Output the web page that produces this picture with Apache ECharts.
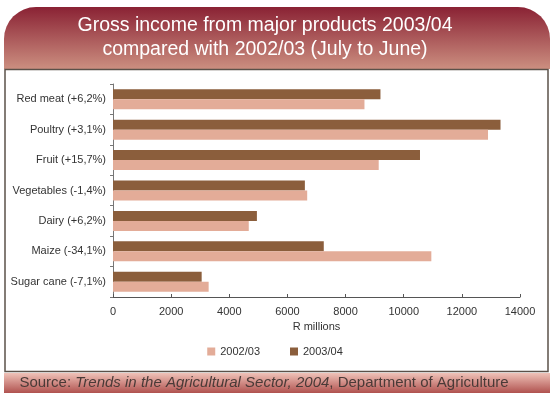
<!DOCTYPE html>
<html>
<head>
<meta charset="utf-8">
<script src="https://cdn.jsdelivr.net/npm/echarts@6/dist/echarts.min.js"></script>
<style>html,body{margin:0;padding:0;background:#fff;}#c{width:550px;height:393px;}</style>
</head>
<body>
<div id="c"></div>
<script>
const categories = ['Red meat (+6,2%)', 'Poultry (+3,1%)', 'Fruit (+15,7%)', 'Vegetables (-1,4%)', 'Dairy (+6,2%)', 'Maize (-34,1%)', 'Sugar cane (-7,1%)'];
const values2002 = [8650, 12900, 9140, 6680, 4670, 10950, 3290];
const values2003 = [9200, 13330, 10560, 6600, 4950, 7250, 3050];
const seriesNames = ['2002/03', '2003/04'];
const xTicks = [0, 2000, 4000, 6000, 8000, 10000, 12000, 14000];

const FONT = 'Liberation Sans';
const chart = echarts.init(document.getElementById('c'), null, {renderer: 'canvas'});
chart.setOption({
  animation: false,
  backgroundColor: '#fff',
  textStyle: {fontFamily: FONT},
  graphic: [
    {type: 'rect', z: 0, shape: {x: 4, y: 7, width: 546, height: 62, r: [32, 32, 0, 0]},
     style: {fill: new echarts.graphic.LinearGradient(0, 0, 0, 1, [{offset: 0, color: '#8a2234'}, {offset: 1, color: '#cc8f80'}])}},
    {type: 'rect', z: 0, shape: {x: 5, y: 69.5, width: 543, height: 302}, style: {fill: 'none', stroke: '#5b5149', lineWidth: 1.5}},
    {type: 'rect', z: 0, shape: {x: 4, y: 373, width: 546, height: 20},
     style: {fill: new echarts.graphic.LinearGradient(0, 0, 0, 1, [{offset: 0, color: '#efc2b8'}, {offset: 1, color: '#b0524f'}])}},
    {type: 'text', z: 5, x: 264, y: 383,
     style: {text: '{n|Source: }{i|Trends in the Agricultural Sector, 2004}{n|, Department of Agriculture}', align: 'center', verticalAlign: 'middle',
       rich: {n: {fontFamily: FONT, fontSize: 15, fill: '#4a3a37'}, i: {fontFamily: FONT, fontSize: 15, fontStyle: 'italic', fill: '#4a3a37'}}}}
  ],
  title: {
    text: 'Gross income from major products 2003/04\ncompared with 2002/03 (July to June)',
    left: 260, top: 9, textAlign: 'center',
    textStyle: {color: '#fff', fontSize: 19.5, fontWeight: 'normal', lineHeight: 24, fontFamily: FONT}
  },
  legend: {
    data: seriesNames, bottom: 31, left: 'center', itemWidth: 8, itemHeight: 8, itemGap: 30,
    icon: 'rect', textStyle: {fontSize: 11, color: '#333', fontFamily: FONT}
  },
  grid: {left: 113, right: 30, top: 84, bottom: 96},
  xAxis: {
    type: 'value', min: xTicks[0], max: xTicks[xTicks.length - 1], interval: xTicks[1] - xTicks[0],
    name: 'R millions', nameLocation: 'middle', nameGap: 22,
    nameTextStyle: {fontSize: 11, color: '#333'},
    axisLine: {show: true, lineStyle: {color: '#555', width: 1}},
    axisTick: {show: true, inside: true, length: 3, lineStyle: {color: '#555'}},
    axisLabel: {fontSize: 11, color: '#333', margin: 9, formatter: v => String(v)},
    splitLine: {show: false}
  },
  yAxis: {
    type: 'category', data: categories, inverse: true,
    axisLine: {show: true, lineStyle: {color: '#777', width: 1}},
    axisTick: {show: true, length: 3, lineStyle: {color: '#777'}},
    axisLabel: {fontSize: 11, color: '#333', margin: 7}
  },
  series: [
    {name: seriesNames[1], type: 'bar', data: values2003, barWidth: 10, barGap: '0%', itemStyle: {color: '#8b5e3c'}},
    {name: seriesNames[0], type: 'bar', data: values2002, barWidth: 10, barGap: '0%', itemStyle: {color: '#e3ac98'}}
  ]
});
</script>
</body>
</html>
